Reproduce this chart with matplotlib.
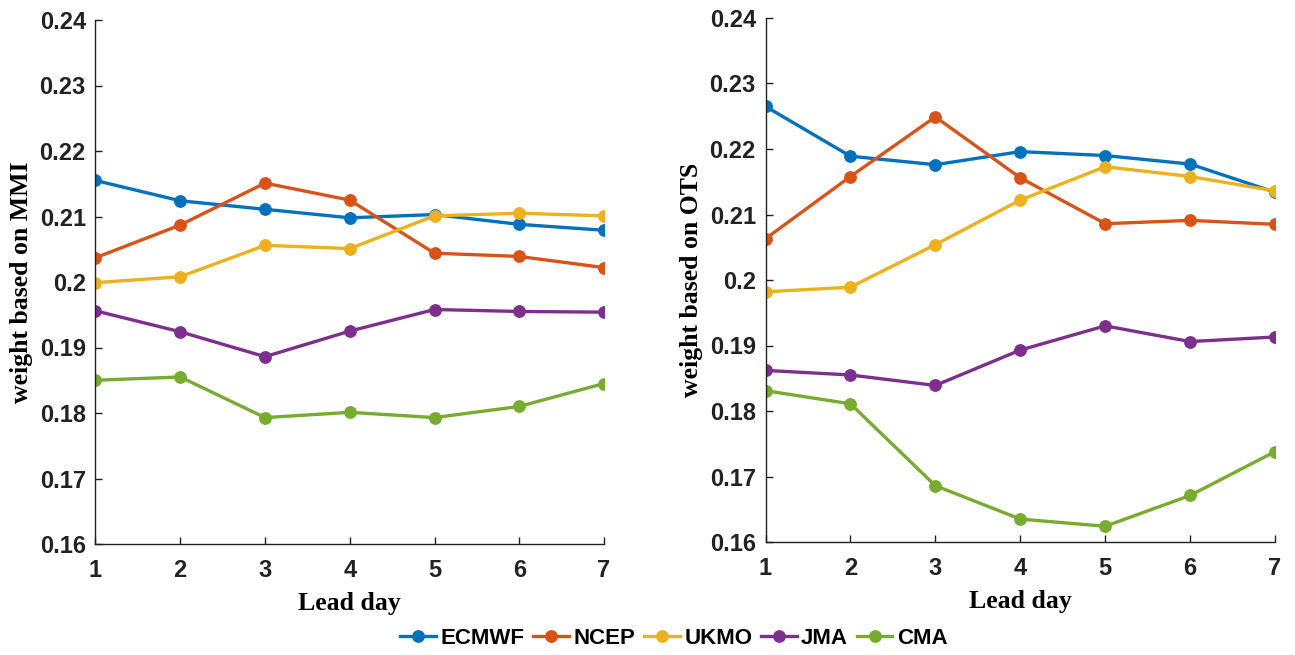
import matplotlib.pyplot as plt

# Data
lead_days = [1, 2, 3, 4, 5, 6, 7]
models = ["ECMWF", "NCEP", "UKMO", "JMA", "CMA"]
colors = ["#0072BD", "#D95319", "#EDB120", "#7E2F8E", "#77AC30"]

mmi_ecmwf = [0.2155, 0.2124, 0.2111, 0.2098, 0.2103, 0.2088, 0.2079]
mmi_ncep = [0.2037, 0.2087, 0.2151, 0.2125, 0.2044, 0.2039, 0.2022]
mmi_ukmo = [0.1999, 0.2008, 0.2056, 0.2051, 0.2101, 0.2105, 0.2101]
mmi_jma = [0.1956, 0.1924, 0.1886, 0.1925, 0.1958, 0.1955, 0.1954]
mmi_cma = [0.1850, 0.1855, 0.1793, 0.1801, 0.1793, 0.1810, 0.1845]

ots_ecmwf = [0.2265, 0.2189, 0.2176, 0.2196, 0.2190, 0.2177, 0.2134]
ots_ncep = [0.2063, 0.2158, 0.2249, 0.2156, 0.2086, 0.2091, 0.2085]
ots_ukmo = [0.1982, 0.1989, 0.2054, 0.2122, 0.2173, 0.2158, 0.2136]
ots_jma = [0.1862, 0.1855, 0.1839, 0.1893, 0.1930, 0.1906, 0.1913]
ots_cma = [0.1831, 0.1811, 0.1686, 0.1635, 0.1624, 0.1671, 0.1738]

yticks = [0.16, 0.17, 0.18, 0.19, 0.2, 0.21, 0.22, 0.23, 0.24]
ytick_labels = ["0.16", "0.17", "0.18", "0.19", "0.2", "0.21", "0.22", "0.23", "0.24"]

tick_font = dict(family="Liberation Sans", weight="bold", size=17)
label_font = dict(family="Liberation Serif", weight="bold", size=18.5)

fig = plt.figure(figsize=(12.95, 6.55), dpi=100)
ax1 = fig.add_axes([95.5 / 1295, 1 - 544 / 655, 508.5 / 1295, 524 / 655])
ax2 = fig.add_axes([765.5 / 1295, 1 - 542 / 655, 509.5 / 1295, 524 / 655])

panels = [
    (ax1, [mmi_ecmwf, mmi_ncep, mmi_ukmo, mmi_jma, mmi_cma], "weight based on MMI"),
    (ax2, [ots_ecmwf, ots_ncep, ots_ukmo, ots_jma, ots_cma], "weight based on OTS"),
]

for ax, series, ylab in panels:
    for name, vals, c in zip(models, series, colors):
        ax.plot(lead_days, vals, "-o", color=c, lw=2.4, ms=8.2, label=name)
    ax.set_xlim(1, 7)
    ax.set_ylim(0.16, 0.24)
    ax.set_xticks(lead_days)
    ax.set_xticklabels([str(d) for d in lead_days], **tick_font)
    ax.set_yticks(yticks)
    ax.set_yticklabels(ytick_labels, **tick_font)
    ax.tick_params(direction="in", length=5, width=1, colors="#222222")
    ax.tick_params(axis="x", pad=11)
    ax.tick_params(axis="y", pad=7)
    ax.spines["top"].set_visible(False)
    ax.spines["right"].set_visible(False)
    for s in ["left", "bottom"]:
        ax.spines[s].set_color("#222222")
        ax.spines[s].set_linewidth(1)
    ax.set_xlabel("Lead day", labelpad=7, **label_font)
    ax.set_ylabel(ylab, labelpad=5, **label_font)

handles, labels = ax1.get_legend_handles_labels()
fig.legend(handles, labels, loc="center", bbox_to_anchor=(674 / 1295, 1 - 638 / 655),
           ncol=5, frameon=False, prop=dict(family="Liberation Sans", weight="bold", size=16),
           handlelength=1.6, columnspacing=0.4, handletextpad=0.2)

fig.savefig("out.png", dpi=100)
